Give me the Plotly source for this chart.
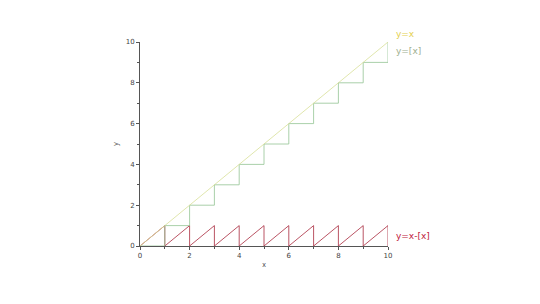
import numpy as np
import plotly.graph_objects as go

# data
ident_x = [0, 10]
ident_y = [0, 10]

floor_x, floor_y = [], []
for k in range(0, 10):
    floor_x += [k, k + 1, k + 1]
    floor_y += [k, k, k + 1]

frac_x, frac_y = [], []
for k in range(0, 10):
    frac_x += [k, k + 1, k + 1]
    frac_y += [0, 1, 0]

fig = go.Figure()
fig.add_trace(go.Scatter(x=frac_x, y=frac_y, mode="lines",
                         line=dict(color="#a8283c", width=0.8), showlegend=False))
fig.add_trace(go.Scatter(x=floor_x, y=floor_y, mode="lines",
                         line=dict(color="#94c494", width=0.8), showlegend=False))
fig.add_trace(go.Scatter(x=ident_x, y=ident_y, mode="lines",
                         line=dict(color="#d8df98", width=0.8), showlegend=False))

labels = [("y=x", 10, 10, 8, "#e4d050"), ("y=[x]", 10, 10, -9, "#a0b090"), ("y=x-[x]", 10, 0.5, 0, "#c02040")]
for t, x, y, ys, c in labels:
    fig.add_annotation(x=x, y=y, text=t, showarrow=False, xanchor="left", xshift=6, yshift=ys,
                       font=dict(color=c, size=9, family="DejaVu Sans"))

axis_common = dict(showgrid=False, zeroline=False, showline=True, linecolor="#555555",
                   linewidth=1, ticks="outside", ticklen=3, tickcolor="#555555",
                   tickfont=dict(size=7, color="#444444", family="DejaVu Sans"),
                   range=[0, 10], tickvals=[0, 2, 4, 6, 8, 10],
                   minor=dict(ticks="outside", ticklen=2, tickcolor="#555555", dtick=1, tick0=0))
fig.update_xaxes(**axis_common, title=dict(text="x", font=dict(size=7, color="#444444"), standoff=2))
fig.update_yaxes(**axis_common, title=dict(text="y", font=dict(size=7, color="#444444"), standoff=6))

fig.update_layout(width=540, height=304, margin=dict(l=140, r=152, t=42, b=58),
                  plot_bgcolor="white", paper_bgcolor="white")
fig.write_html("out.html")
